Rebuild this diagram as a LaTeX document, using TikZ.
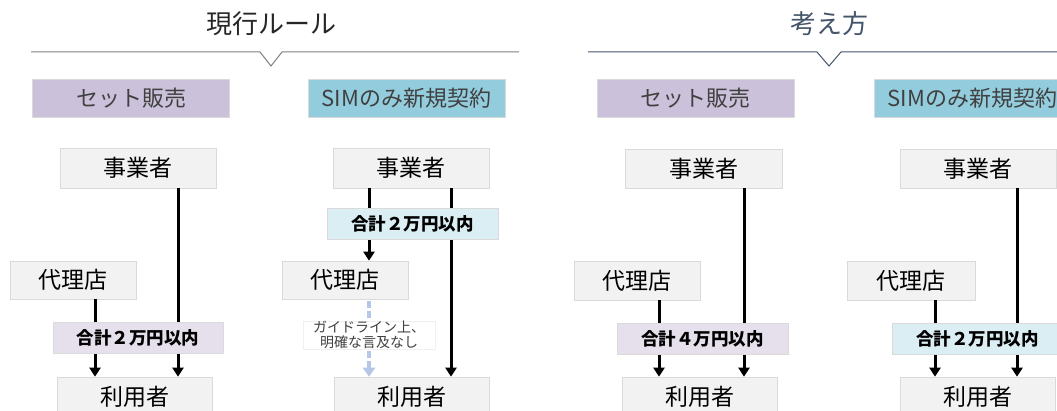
\documentclass[tikz,border=0pt]{standalone}
\usepackage{fontspec}
\setmainfont{Noto Sans CJK JP}
\usetikzlibrary{arrows.meta}
\definecolor{boxgrey}{HTML}{F2F2F2}
\definecolor{boxedge}{HTML}{DADADA}
\definecolor{hdrpurple}{HTML}{CCC1DA}
\definecolor{hdrblue}{HTML}{93CDDD}
\definecolor{sumpurple}{HTML}{E6E0EC}
\definecolor{sumblue}{HTML}{DBEEF4}
\definecolor{titleblue}{HTML}{44546A}
\definecolor{txtgrey}{HTML}{404040}
\definecolor{dashblue}{HTML}{B4C7E7}
\tikzset{
  greybox/.style={fill=boxgrey, draw=boxedge, line width=0.6pt, inner sep=0pt, font=\fontsize{23}{26}\selectfont, text=black},
  hdrbox/.style={draw=boxedge, line width=0.5pt, inner sep=0pt, minimum width=197, minimum height=38, font=\fontsize{22}{26}\selectfont, text=txtgrey},
  sumbox/.style={draw=boxedge, line width=0.8pt, inner sep=0pt, minimum height=31, font=\fontsize{17.5}{20}\bfseries\selectfont, text=black},
  arr/.style={line width=3pt, -{Triangle[length=9pt,width=11pt]}},
  dasharr/.style={draw=dashblue, line width=3.4pt, dash pattern=on 7pt off 3pt, -{Triangle[length=9pt,width=12pt]}},
  notebox/.style={fill=white, draw=black!6, line width=0.5pt, inner sep=0pt, align=center, font=\fontsize{14}{15.5}\selectfont, text=txtgrey},
  titletext/.style={font=\fontsize{26}{30}\selectfont}
}
\begin{document}
\begin{tikzpicture}[x=1pt,y=-1pt]
\useasboundingbox (0,0) rectangle (1057,411);
\fill[white] (0,0) rectangle (1057,411);
% titles
\node[titletext, text=black!85] (t1) at (271,24) {現行ルール};
\node[titletext, text=titleblue] (t2) at (829,24) {考え方};
\draw[gray, line width=1pt] (31,52) -- (260,52) -- (271,66) -- (282,52) -- (519,52);
\draw[titleblue, line width=1pt] (588,52) -- (817,52) -- (829,66) -- (841,52) -- (1060,52);
% headers
\node[hdrbox, fill=hdrpurple] (hA) at (131,98) {セット販売};
\node[hdrbox, fill=hdrblue] (hB) at (406.5,98) {SIMのみ新規契約};
\node[hdrbox, fill=hdrpurple] (hC) at (695.5,98) {セット販売};
\node[hdrbox, fill=hdrblue] (hD) at (972.5,98) {SIMのみ新規契約};
% ---- panel A
\node[greybox, minimum width=156, minimum height=40] (bizA) at (138,168) {事業者};
\node[greybox, minimum width=126, minimum height=38] (agA) at (73,280) {代理店};
\node[greybox, minimum width=155, minimum height=40] (usrA) at (134.5,397) {利用者};
\coordinate (xA1) at (95,0);
\coordinate (xA2) at (178,0);
\draw[arr] (agA.south -| xA1) -- (usrA.north -| xA1);
\draw[arr] (bizA.south -| xA2) -- (usrA.north -| xA2);
\node[sumbox, fill=sumpurple, minimum width=170] (sumA) at (138,337.5) {合計２万円以内};
% ---- panel B
\node[greybox, minimum width=156, minimum height=40] (bizB) at (411,168) {事業者};
\node[greybox, minimum width=126, minimum height=38] (agB) at (345,280) {代理店};
\node[greybox, minimum width=155, minimum height=40] (usrB) at (411.5,397) {利用者};
\coordinate (xB1) at (369,0);
\coordinate (xB2) at (451,0);
\draw[arr] (bizB.south -| xB1) -- (agB.north -| xB1);
\draw[arr] (bizB.south -| xB2) -- (usrB.north -| xB2);
\draw[dasharr] (agB.south -| xB1) ++(0,2) -- (usrB.north -| xB1);
\node[sumbox, fill=sumblue, minimum width=171] (sumB) at (412.5,223.5) {合計２万円以内};
\node[notebox, minimum width=132, minimum height=28] (noteB) at (369,335) {ガイドライン上、\\明確な言及なし};
% ---- panel C
\node[greybox, minimum width=157, minimum height=39] (bizC) at (703.5,168.5) {事業者};
\node[greybox, minimum width=126, minimum height=39] (agC) at (637,280.5) {代理店};
\node[greybox, minimum width=155, minimum height=40] (usrC) at (699.5,397) {利用者};
\coordinate (xC1) at (659,0);
\coordinate (xC2) at (744,0);
\draw[arr] (agC.south -| xC1) -- (usrC.north -| xC1);
\draw[arr] (bizC.south -| xC2) -- (usrC.north -| xC2);
\node[sumbox, fill=sumpurple, minimum width=171] (sumC) at (702.5,338.5) {合計４万円以内};
% ---- panel D
\node[greybox, minimum width=156, minimum height=39] (bizD) at (978,168.5) {事業者};
\node[greybox, minimum width=128, minimum height=39] (agD) at (911,280.5) {代理店};
\node[greybox, minimum width=155, minimum height=40] (usrD) at (977.5,397) {利用者};
\coordinate (xD1) at (935,0);
\coordinate (xD2) at (1017,0);
\draw[arr] (agD.south -| xD1) -- (usrD.north -| xD1);
\draw[arr] (bizD.south -| xD2) -- (usrD.north -| xD2);
\node[sumbox, fill=sumblue, minimum width=171] (sumD) at (977.5,338.5) {合計２万円以内};
\end{tikzpicture}
\end{document}
